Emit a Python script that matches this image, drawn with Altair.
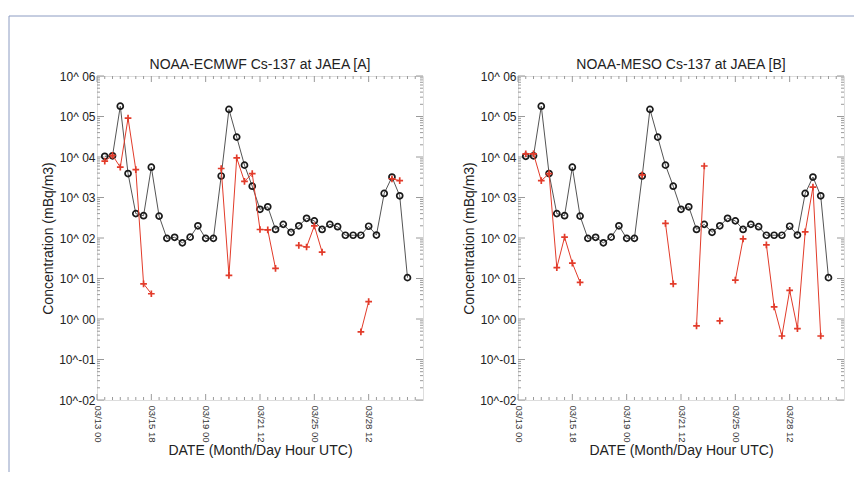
import altair as alt
import pandas as pd

# ---------------- data ----------------
obs_idx = list(range(1, 41))
obs_val = [1.04e4, 1.07e4, 1.8e5, 3.9e3, 400, 355, 5.6e3, 347, 98, 104,
           76, 105, 200, 98, 98, 3400, 1.5e5, 3.1e4, 6.3e3, 1.9e3,
           510, 590, 163, 217, 138, 200, 306, 265, 163, 217,
           190, 117, 117, 117, 195, 118, 1260, 3200, 1100, 10.5]

ecmwf_idx = [1, 2, 3, 4, 5, 6, 7, 16, 17, 18, 19, 20, 21, 22, 23,
             26, 27, 28, 29, 34, 35, 38, 39]
ecmwf_val = [7.9e3, 1.1e4, 5.6e3, 9.1e4, 4.9e3, 7.4, 4.2,
             5.2e3, 12, 9.5e3, 2.5e3, 3.9e3, 162, 158, 17.8,
             66, 60, 200, 45, 0.48, 2.7, 2.9e3, 2.6e3]
ecmwf_seg = [1] * 7 + [2] * 8 + [3] * 4 + [4] * 2 + [5] * 2

meso_idx = [1, 2, 3, 4, 5, 6, 7, 8, 16, 19, 20, 23, 24, 26, 28, 29,
            32, 33, 34, 35, 36, 37, 38, 39]
meso_val = [1.2e4, 1.2e4, 2.6e3, 3.9e3, 18.6, 105, 24, 8.0,
            3.6e3, 230, 7.4, 0.68, 6.0e3, 0.9, 9.1, 95,
            68, 2.0, 0.38, 5.1, 0.58, 141, 1.8e3, 0.38]
meso_seg = [1] * 8 + [2] + [3] * 2 + [4] * 2 + [5] + [6] * 2 + [7] * 8

x_tick_pos = [0, 7, 14, 21, 28, 35]
x_tick_lab = ["03/13 00", "03/15 18", "03/19 00", "03/21 12", "03/25 00", "03/28 12"]
x_minor = [i for i in range(1, 42) if i % 7 != 0]
y_major = [10.0 ** k for k in range(-2, 7)]
y_minor = [m * 10.0 ** k for k in range(-2, 6) for m in range(2, 10)]

titles = ["NOAA-ECMWF Cs-137 at JAEA [A]", "NOAA-MESO Cs-137 at JAEA [B]"]

# ---------------- styling ----------------
FONT = "Liberation Sans"
W, H = 326, 324
RED = "#e23b2a"
TICK = "#9a9a9a"

obs_df = pd.DataFrame({"i": obs_idx, "v": obs_val})
ec_df = pd.DataFrame({"i": ecmwf_idx, "v": ecmwf_val, "seg": ecmwf_seg})
me_df = pd.DataFrame({"i": meso_idx, "v": meso_val, "seg": meso_seg})

lab_expr = "[" + ",".join("'%s'" % s for s in x_tick_lab) + "][round(datum.value/7)]"
y_lab_expr = ("'10^' + (datum.value < 1 ? '-' : ' ') + "
              "pad(format(abs(round(log(datum.value)/LN10)),'d'), 2, '0', 'left')")

x_enc = alt.X("i:Q",
              scale=alt.Scale(domain=[0, 42], nice=False, zero=False),
              axis=alt.Axis(values=x_tick_pos, labelExpr=lab_expr, labelAngle=90,
                            labelAlign="left", labelBaseline="middle",
                            ticks=False, domain=False, grid=False,
                            labelFontSize=9.5, labelPadding=5, labelColor="#333",
                            labelFont=FONT, title="DATE (Month/Day Hour UTC)",
                            titleFont=FONT, titleFontSize=14, titleFontWeight="normal",
                            titleColor="#222", titlePadding=2))
y_enc = alt.Y("v:Q",
              scale=alt.Scale(type="log", domain=[1e-2, 1e6], nice=False),
              axis=alt.Axis(values=y_major, labelExpr=y_lab_expr,
                            ticks=False, domain=False, grid=False,
                            labelFontSize=12, labelPadding=2, labelColor="#222",
                            labelFont=FONT, title="Concentration (mBq/m3)",
                            titleFont=FONT, titleFontSize=14, titleFontWeight="normal",
                            titleColor="#222", titlePadding=3))


def tick_layers():
    xmaj = pd.DataFrame({"i": x_tick_pos})
    xmin = pd.DataFrame({"i": x_minor})
    ymaj = pd.DataFrame({"v": y_major})
    ymin = pd.DataFrame({"v": y_minor})
    r = dict(color=TICK, strokeWidth=1)
    return [
        alt.Chart(xmaj).mark_rule(**r).encode(x=x_enc, y=alt.value(H), y2=alt.value(H - 6)),
        alt.Chart(xmaj).mark_rule(**r).encode(x=x_enc, y=alt.value(0), y2=alt.value(6)),
        alt.Chart(xmin).mark_rule(**r).encode(x=x_enc, y=alt.value(H), y2=alt.value(H - 3)),
        alt.Chart(xmin).mark_rule(**r).encode(x=x_enc, y=alt.value(0), y2=alt.value(3)),
        alt.Chart(ymaj).mark_rule(**r).encode(y=y_enc, x=alt.value(0), x2=alt.value(7)),
        alt.Chart(ymaj).mark_rule(**r).encode(y=y_enc, x=alt.value(W), x2=alt.value(W - 7)),
        alt.Chart(ymin).mark_rule(**r).encode(y=y_enc, x=alt.value(0), x2=alt.value(3)),
        alt.Chart(ymin).mark_rule(**r).encode(y=y_enc, x=alt.value(W), x2=alt.value(W - 3)),
    ]


CROSS = "M-1,0H1M0,-1V1"


def panel(title, red_df, frame=False):
    one = pd.DataFrame({"t": [title]})
    layers = []
    if frame:
        layers.append(alt.Chart(one).mark_rule(color="#8c9cc2", strokeWidth=1).encode(
            x=alt.value(-88), x2=alt.value(757), y=alt.value(-60)))
        layers.append(alt.Chart(one).mark_rule(color="#8c9cc2", strokeWidth=1).encode(
            x=alt.value(-88), y=alt.value(-60), y2=alt.value(396)))
    layers.append(alt.Chart(one).mark_text(font=FONT, fontSize=14, color="#222",
                                           align="center", baseline="alphabetic").encode(
        text="t:N", x=alt.value(W / 2), y=alt.value(-7)))
    layers += tick_layers()
    layers += [
        alt.Chart(obs_df).mark_line(color="#555555", strokeWidth=1).encode(x=x_enc, y=y_enc),
        alt.Chart(obs_df).mark_point(shape="circle", filled=False, color="#1a1a1a",
                                     size=36, strokeWidth=1.7, opacity=1).encode(x=x_enc, y=y_enc),
        alt.Chart(red_df).mark_line(color=RED, strokeWidth=1).encode(
            x=x_enc, y=y_enc, detail="seg:N"),
        alt.Chart(red_df).mark_point(shape=CROSS, color=RED, size=45,
                                     strokeWidth=1.7, opacity=1).encode(x=x_enc, y=y_enc),
    ]
    return alt.layer(*layers).properties(width=W, height=H)


left = panel(titles[0], ec_df, frame=True)
right = panel(titles[1], me_df)

chart = alt.hconcat(left, right, spacing=95, bounds="flush").properties(
    padding={"left": 0, "top": 7, "right": 0, "bottom": 0}
).configure_view(stroke="#a0a0a0", strokeWidth=1.2).configure(background="white")

chart.save("out.html", embed_options={"renderer": "svg", "actions": False})
